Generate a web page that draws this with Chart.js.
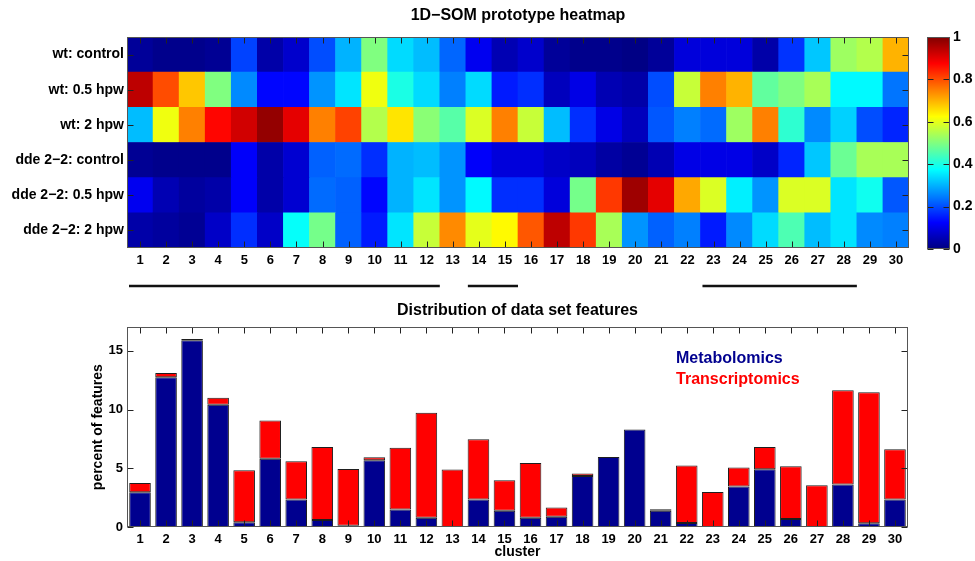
<!DOCTYPE html>
<html>
<head>
<meta charset="utf-8">
<script src="https://cdn.jsdelivr.net/npm/chart.js@4.4.1/dist/chart.umd.min.js"></script>
<style>
  body { margin: 0; background: #fff; }
  #wrap { position: relative; width: 975px; height: 561px; background: #fff; }
  canvas { position: absolute; }
</style>
</head>
<body>
<div id="wrap">
  <canvas id="heat" width="915" height="300" style="left:0;top:0;width:915px;height:300px"></canvas>
  <canvas id="cbar" width="60" height="300" style="left:915px;top:0;width:60px;height:300px"></canvas>
  <canvas id="bars" width="975" height="266" style="left:0;top:295px;width:975px;height:266px"></canvas>
</div>
<script>
const clusters = Array.from({ length: 30 }, (_, i) => String(i + 1));

// heatmap rows, top to bottom (prototype values 0..1)
const rowLabels = ["wt: control", "wt: 0.5 hpw", "wt: 2 hpw", "dde 2\u22122: control", "dde 2\u22122: 0.5 hpw", "dde 2\u22122: 2 hpw"];
const wtControl = [0.025,0.012,0.012,0.02,0.19,0.04,0.075,0.2,0.3,0.5,0.34,0.31,0.225,0.11,0.05,0.075,0.025,0.012,0.012,0.005,0.025,0.09,0.09,0.09,0.04,0.175,0.32,0.53,0.55,0.7];
const wtHalf = [0.94,0.8,0.68,0.5,0.26,0.13,0.13,0.27,0.35,0.61,0.4,0.34,0.25,0.34,0.15,0.17,0.06,0.1,0.05,0.04,0.2,0.57,0.75,0.7,0.47,0.5,0.54,0.37,0.37,0.24];
const wtTwo = [0.31,0.61,0.75,0.87,0.92,0.98,0.9,0.75,0.81,0.55,0.65,0.51,0.46,0.59,0.75,0.57,0.31,0.17,0.1,0.06,0.21,0.25,0.23,0.53,0.75,0.42,0.26,0.33,0.2,0.16];
const ddeControl = [0.02,0.012,0.012,0.012,0.12,0.04,0.08,0.22,0.23,0.17,0.3,0.31,0.27,0.12,0.09,0.09,0.07,0.06,0.035,0.02,0.05,0.1,0.1,0.1,0.07,0.16,0.32,0.48,0.54,0.54];
const ddeHalf = [0.11,0.05,0.03,0.04,0.12,0.04,0.08,0.23,0.22,0.13,0.3,0.35,0.27,0.37,0.17,0.17,0.09,0.49,0.82,0.97,0.9,0.71,0.59,0.36,0.27,0.59,0.59,0.35,0.39,0.21];
const ddeTwo = [0.04,0.03,0.02,0.07,0.17,0.07,0.38,0.49,0.22,0.15,0.35,0.57,0.74,0.6,0.63,0.79,0.94,0.82,0.54,0.27,0.22,0.25,0.15,0.26,0.34,0.45,0.31,0.35,0.26,0.25];
const heatRows = [wtControl, wtHalf, wtTwo, ddeControl, ddeHalf, ddeTwo];

// underlined cluster groups
const clusterGroups = [[1, 12], [14, 15], [23, 28]];

const colorTicks = [0, 0.2, 0.4, 0.6, 0.8, 1];

// percent of features per cluster
const metabolomics = [2.95,12.75,15.9,10.4,0.4,5.8,2.35,0.6,0.1,5.68,1.5,0.79,0,2.35,1.38,0.79,0.87,4.35,5.96,8.3,1.38,0.34,0,3.45,4.92,0.68,0,3.62,0.31,2.35];
const transcriptomics = [0.8,0.35,0.1,0.6,4.43,3.27,3.25,6.2,4.84,0.25,5.25,8.93,4.89,5.13,2.6,4.66,0.8,0.2,0,0,0.14,4.89,2.99,1.61,1.88,4.49,3.56,8.02,11.16,4.26];

const FONT = "'Liberation Sans', Arial, Helvetica, sans-serif";
Chart.defaults.font.family = FONT;
Chart.defaults.font.weight = "bold";
Chart.defaults.color = "#000";
Chart.defaults.animation = false;

function jet(v) {
  const c = (x) => Math.round(255 * Math.max(0, Math.min(1, x)));
  return `rgb(${c(1.5 - Math.abs(4 * v - 3))},${c(1.5 - Math.abs(4 * v - 2))},${c(1.5 - Math.abs(4 * v - 1))})`;
}

// matlab style box with inward ticks
const boxTicks = {
  id: "boxTicks",
  afterDatasetsDraw(chart) {
    const { ctx, chartArea: a, scales } = chart;
    const L = Math.round(a.left) + 0.5, R = Math.round(a.right) - 0.5;
    const T = Math.round(a.top) + 0.5, B = Math.round(a.bottom) - 0.5;
    ctx.save();
    ctx.strokeStyle = "#222";
    ctx.lineWidth = 1;
    ctx.beginPath();
    const len = 6;
    if (scales.x && scales.x.options.display !== false) {
      scales.x.ticks.forEach((t, i) => {
        const x = Math.round(scales.x.getPixelForTick(i)) + 0.5;
        ctx.moveTo(x, T); ctx.lineTo(x, T + len);
        ctx.moveTo(x, B); ctx.lineTo(x, B - len);
      });
    }
    scales.y.ticks.forEach((t, i) => {
      const y = Math.round(scales.y.getPixelForTick(i)) + 0.5;
      ctx.moveTo(L, y); ctx.lineTo(L + len, y);
      ctx.moveTo(R, y); ctx.lineTo(R - len, y);
    });
    ctx.stroke();
    ctx.strokeStyle = "#555";
    ctx.strokeRect(L, T, R - L, B - T);
    ctx.restore();
  }
};

const groupLines = {
  id: "groupLines",
  afterDraw(chart) {
    const { ctx, chartArea: a, scales: { x } } = chart;
    const w = x.getPixelForTick(1) - x.getPixelForTick(0);
    ctx.save();
    ctx.strokeStyle = "#111";
    ctx.lineWidth = 2.5;
    ctx.beginPath();
    clusterGroups.forEach(([s, e]) => {
      ctx.moveTo(x.getPixelForTick(s - 1) - w / 2 + 2, a.bottom + 38);
      ctx.lineTo(x.getPixelForTick(e - 1) + w / 2, a.bottom + 38);
    });
    ctx.stroke();
    ctx.restore();
  }
};

// heatmap: six stacked rows of unit cells, coloured by value
new Chart(document.getElementById("heat"), {
  type: "bar",
  data: {
    labels: clusters,
    datasets: heatRows.slice().reverse().map((row) => ({
      data: clusters.map(() => 1),
      backgroundColor: row.map(jet),
      borderWidth: 0,
      barPercentage: 1,
      categoryPercentage: 1,
    })),
  },
  options: {
    responsive: false,
    layout: { padding: { right: 6 } },
    plugins: {
      legend: { display: false },
      tooltip: { enabled: false },
      title: {
        display: true, fullSize: false,
        text: "1D\u2212SOM prototype heatmap",
        font: { size: 16, weight: "bold" },
        padding: { top: 6, bottom: 11.8 },
      },
    },
    scales: {
      x: {
        stacked: true,
        grid: { display: false, drawTicks: false },
        border: { display: false },
        ticks: { font: { size: 13 }, padding: 5, autoSkip: false, maxRotation: 0 },
        afterFit: (s) => { s.height = 52; },
      },
      y: {
        stacked: true, min: 0, max: 6,
        grid: { display: false, drawTicks: false },
        border: { display: false },
        afterBuildTicks: (s) => { s.ticks = [0.5, 1.5, 2.5, 3.5, 4.5, 5.5].map((v) => ({ value: v })); },
        ticks: { font: { size: 14 }, padding: 3, callback: (v, i) => rowLabels[5 - i] },
        afterFit: (s) => { s.width = 127; },
      },
    },
  },
  plugins: [boxTicks, groupLines],
});

// colour bar
new Chart(document.getElementById("cbar"), {
  type: "bar",
  data: {
    labels: ["c"],
    datasets: [{
      data: [[0, 1]],
      barPercentage: 1,
      categoryPercentage: 1,
      borderWidth: 0,
      backgroundColor: (c) => {
        const a = c.chart.chartArea;
        if (!a) return "#fff";
        const g = c.chart.ctx.createLinearGradient(0, a.bottom, 0, a.top);
        for (let i = 0; i <= 32; i++) g.addColorStop(i / 32, jet(i / 32));
        return g;
      },
    }],
  },
  options: {
    responsive: false,
    layout: { padding: { left: 12, top: 37, bottom: 51, right: 0 } },
    plugins: { legend: { display: false }, tooltip: { enabled: false } },
    scales: {
      x: { display: false },
      y: {
        position: "right", min: 0, max: 1,
        grid: { display: false, drawTicks: false },
        border: { display: false },
        afterBuildTicks: (s) => { s.ticks = colorTicks.map((v) => ({ value: v })); },
        ticks: { font: { size: 14 }, padding: 3, callback: (v) => String(v) },
        afterFit: (s) => { s.width = 25; },
      },
    },
  },
  plugins: [boxTicks],
});

const legendText = {
  id: "legendText",
  afterDraw(chart) {
    const { ctx, chartArea: a } = chart;
    const x0 = a.left + 0.703 * (a.right - a.left);
    ctx.save();
    ctx.font = `bold 16px ${FONT}`;
    ctx.textBaseline = "middle";
    chart.data.datasets.forEach((ds, i) => {
      ctx.fillStyle = ds.backgroundColor;
      ctx.fillText(ds.label, x0, a.top + 31.7 + i * 21);
    });
    ctx.restore();
  }
};

// stacked distribution bars
new Chart(document.getElementById("bars"), {
  type: "bar",
  data: {
    labels: clusters,
    datasets: [
      { label: "Metabolomics", data: metabolomics, backgroundColor: "#00008f" },
      { label: "Transcriptomics", data: transcriptomics, backgroundColor: "#ff0000" },
    ].map((d) => ({ ...d, borderColor: "#1e1e1e", borderWidth: 1, borderSkipped: false, barPercentage: 0.83, categoryPercentage: 1 })),
  },
  options: {
    responsive: false,
    layout: { padding: { right: 67 } },
    plugins: {
      legend: { display: false },
      tooltip: { enabled: false },
      title: {
        display: true, fullSize: false,
        text: "Distribution of data set features",
        font: { size: 16, weight: "bold" },
        padding: { top: 5.8, bottom: 7.3 },
      },
    },
    scales: {
      x: {
        stacked: true,
        grid: { display: false, drawTicks: false },
        border: { display: false },
        ticks: { font: { size: 13 }, padding: 5, autoSkip: false, maxRotation: 0 },
        title: { display: true, text: "cluster", font: { size: 14, weight: "bold" }, padding: { top: 0, bottom: 0 } },
        afterFit: (s) => { s.height = 34; },
      },
      y: {
        stacked: true, min: 0, max: 17,
        grid: { display: false, drawTicks: false },
        border: { display: false },
        ticks: { stepSize: 5, includeBounds: false, font: { size: 13 }, padding: 4 },
        title: { display: true, text: "percent of features", font: { size: 14, weight: "bold" }, padding: { top: 90, bottom: 0 } },
        afterFit: (s) => { s.width = 127; },
      },
    },
  },
  plugins: [boxTicks, legendText],
});
</script>
</body>
</html>
